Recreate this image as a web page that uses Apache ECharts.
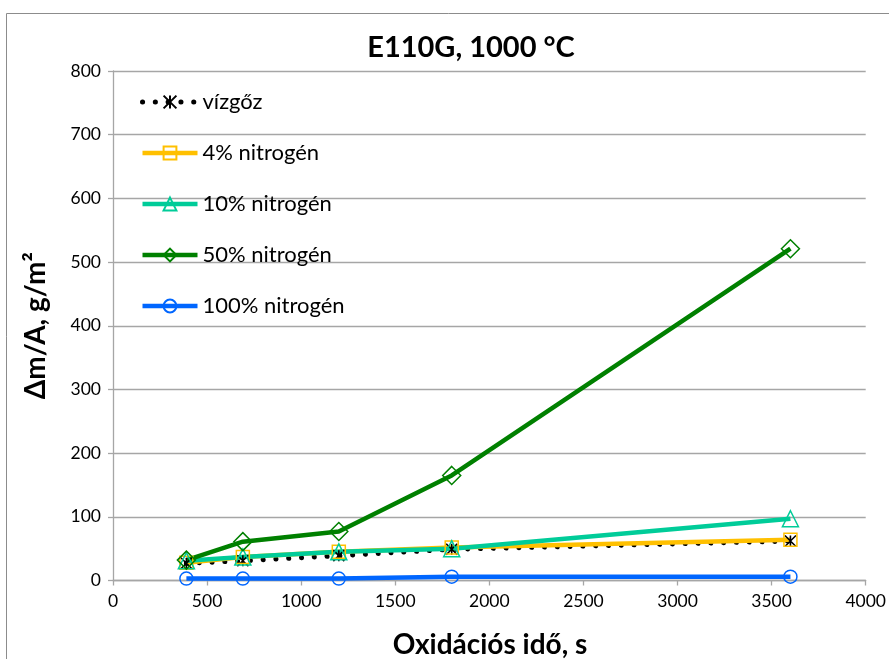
<!DOCTYPE html>
<html>
<head>
<meta charset="utf-8">
<script src="https://cdn.jsdelivr.net/npm/echarts@6/dist/echarts.min.js"></script>
<style>
  html, body { margin: 0; padding: 0; background: #fff; }
  #chart { width: 889px; height: 659px; }
</style>
</head>
<body>
<div id="chart"></div>
<script>
// Oxidation times (s)
const times = [390, 690, 1200, 1800, 3600];

// Mass gain per area (g/m²) for each atmosphere
const steam = [27, 31, 39, 49, 62];
const nitrogen4 = [28, 37, 45, 52, 64];
const nitrogen10 = [31, 37, 45, 50, 97];
const nitrogen50 = [32, 61, 77, 165, 521];
const nitrogen100 = [3, 3, 3, 6, 6];

const seriesNames = ['vízgőz', '4% nitrogén', '10% nitrogén', '50% nitrogén', '100% nitrogén'];
const xTicks = [0, 500, 1000, 1500, 2000, 2500, 3000, 3500, 4000];

const FONT = 'Lato, "Liberation Sans", sans-serif';
const GRID = '#a6a6a6';

function pairs(vals) {
  return times.map((t, i) => [t, vals[i]]);
}

function lineSeries(name, vals, color, symbol, size, lineStyle) {
  return {
    name: name,
    type: 'line',
    data: pairs(vals),
    symbol: symbol,
    symbolSize: size,
    showAllSymbol: true,
    itemStyle: { color: 'rgba(255,255,255,0)', borderColor: color, borderWidth: 1.5 },
    lineStyle: Object.assign({ color: color, width: 4.5 }, lineStyle || {}),
    emphasis: { disabled: true },
    animation: false
  };
}

const chart = echarts.init(document.getElementById('chart'), null, { renderer: 'canvas' });

chart.setOption({
  backgroundColor: '#fff',
  animation: false,
  title: {
    text: 'E110G, 1000 °C',
    left: 466,
    top: 28,
    textAlign: 'center',
    textStyle: { fontFamily: FONT, fontSize: 29, fontWeight: 'bold', color: '#000' }
  },
  graphic: [{
    type: 'rect',
    shape: { x: 6.5, y: 13.5, width: 1000, height: 1000 },
    style: { fill: 'none', stroke: '#8c8c8c', lineWidth: 1 },
    silent: true,
    z: -1
  }, {
    type: 'text',
    style: {
      text: 'Oxidációs idő, s',
      x: 490, y: 659,
      align: 'center',
      verticalAlign: 'bottom',
      font: 'bold 28px ' + FONT,
      fill: '#000'
    },
    silent: true
  }],
  legend: {
    orient: 'vertical',
    left: 140,
    top: 91,
    padding: 0,
    itemWidth: 55,
    itemHeight: 16,
    itemGap: 29,
    data: seriesNames,
    lineStyle: { width: 'inherit' },
    textStyle: { fontFamily: FONT, fontSize: 22, color: '#000', lineHeight: 22 },
    selectedMode: false
  },
  grid: { left: 113, right: 23, top: 71, bottom: 78.5, containLabel: false },
  xAxis: {
    type: 'value',
    min: 0,
    max: 4000,
    interval: 500,
    axisLine: { show: true, lineStyle: { color: GRID, width: 1.3 } },
    axisTick: { show: true, length: 5, lineStyle: { color: GRID, width: 1.3 } },
    splitLine: { show: false },
    axisLabel: {
      color: '#000', fontFamily: FONT, fontSize: 17.5, margin: 12,
      formatter: v => xTicks.includes(v) ? String(v) : ''
    }
  },
  yAxis: {
    type: 'value',
    min: 0,
    max: 800,
    interval: 100,
    name: 'Δm/A, g/m²',
    nameLocation: 'middle',
    nameGap: 63,
    nameRotate: 90,
    nameTextStyle: { fontFamily: FONT, fontSize: 28, fontWeight: 'bold', color: '#000' },
    axisLine: { show: true, lineStyle: { color: GRID, width: 1.3 } },
    axisTick: { show: true, length: 5, lineStyle: { color: GRID, width: 1.3 } },
    splitLine: { show: true, lineStyle: { color: GRID, width: 1.3 } },
    axisLabel: { color: '#000', fontFamily: FONT, fontSize: 17.5, margin: 12 }
  },
  series: [
    Object.assign(
      lineSeries(seriesNames[0], steam, '#000', 'path://M5,0L5,10M0,0L10,10M10,0L0,10', 11,
        { type: [0.1, 12.7], cap: 'round', width: 5, color: '#000' }),
      { itemStyle: { color: 'rgba(0,0,0,0)', borderColor: '#000', borderWidth: 1.6 } }
    ),
    lineSeries(seriesNames[1], nitrogen4, '#FFC000', 'rect', 13),
    lineSeries(seriesNames[2], nitrogen10, '#00CC99', 'triangle', 16),
    lineSeries(seriesNames[3], nitrogen50, '#008000', 'diamond', 18),
    lineSeries(seriesNames[4], nitrogen100, '#0066FF', 'circle', 13)
  ]
});
</script>
</body>
</html>
